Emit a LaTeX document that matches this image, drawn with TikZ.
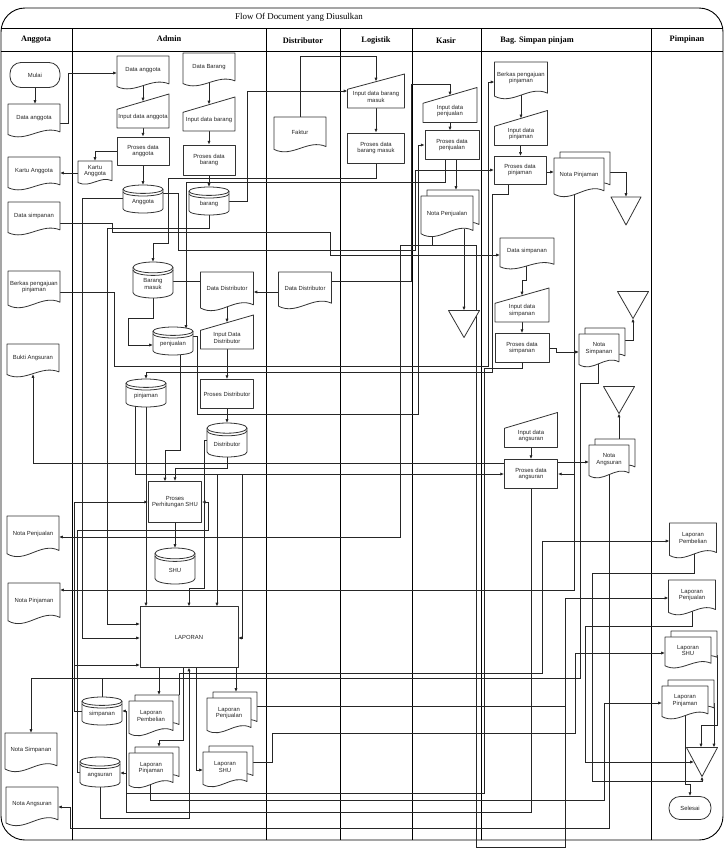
\documentclass[tikz,border=0pt]{standalone}
\usepackage{fontspec}
\setmainfont{Liberation Serif}
\newfontfamily\sansf{Liberation Sans}
\usetikzlibrary{arrows.meta}
\pgfdeclarelayer{back}
\pgfdeclarelayer{wires}
\pgfsetlayers{back,wires,main}
\tikzset{
  shp/.style={draw=black!80, line width=0.8pt, fill=white, line join=round},
  shpo/.style={draw=black!80, line width=0.8pt},
  box/.style={inner sep=0pt, outer sep=0pt},
  lbl/.style={font=\sansf\fontsize{5.9}{6.7}\selectfont, align=center, inner sep=0pt, text=black!85},
  proc/.style={shp, lbl},
  term/.style={shp, lbl, rounded corners=11pt},
  wire/.style={draw=black!85, line width=0.75pt},
  arr/.style={wire, -{Latex[length=3.8pt,width=3.2pt]}},
  lane/.style={draw=black, line width=0.9pt},
  hdr/.style={font=\bfseries\fontsize{8.3}{10}\selectfont, inner sep=0pt},
}
% document shape: name, x, y, w, h, text
\newcommand{\DocS}[6]{%
  \draw[shp,shift={(#2,#3)}] (-#4/2,-#5/2) -- (#4/2,-#5/2) -- (#4/2,0.32*#5) .. controls (0.15*#4,0.1*#5) and (-0.15*#4,0.65*#5) .. (-#4/2,0.4*#5) -- cycle;
  \node[box, minimum width=#4pt, minimum height=#5pt] (#1) at (#2,#3) {};
  \node[lbl] (#1t) at (#2,#3-0.08*#5) {#6};
}
\newcommand{\MDocS}[6]{%
  \draw[shp,shift={(#2+6,#3-6)}] (-#4/2,-#5/2) -- (#4/2,-#5/2) -- (#4/2,0.32*#5) .. controls (0.15*#4,0.1*#5) and (-0.15*#4,0.65*#5) .. (-#4/2,0.4*#5) -- cycle;
  \draw[shp,shift={(#2,#3)}] (-#4/2,-#5/2) -- (#4/2,-#5/2) -- (#4/2,0.32*#5) .. controls (0.15*#4,0.1*#5) and (-0.15*#4,0.65*#5) .. (-#4/2,0.4*#5) -- cycle;
  \node[box, minimum width=#4pt, minimum height=#5pt] (#1) at (#2,#3) {};
  \node[lbl] (#1t) at (#2,#3-0.08*#5) {#6};
}
\newcommand{\InpS}[6]{%
  \draw[shp,shift={(#2,#3)}] (-#4/2,-0.05*#5) -- (#4/2,-#5/2) -- (#4/2,#5/2) -- (-#4/2,#5/2) -- cycle;
  \node[box, minimum width=#4pt, minimum height=#5pt] (#1) at (#2,#3) {};
  \node[lbl] (#1t) at (#2,#3+0.17*#5) {#6};
}
\newcommand{\CylS}[6]{%
  \pgfmathsetmacro\cyrx{#4/2}\pgfmathsetmacro\cyry{0.15*#5}%
  \draw[shp,shift={(#2,#3)}] (-#4/2,-#5/2+\cyry) -- (-#4/2,#5/2-\cyry) arc[start angle=180,end angle=360,x radius=\cyrx pt,y radius=\cyry pt] -- (#4/2,-#5/2+\cyry) arc[start angle=0,end angle=180,x radius=\cyrx pt,y radius=\cyry pt] -- cycle;
  \draw[shpo,shift={(#2,#3)}] (-#4/2,-#5/2+\cyry) arc[start angle=180,end angle=360,x radius=\cyrx pt,y radius=\cyry pt];
  \draw[shpo,shift={(#2,#3)}] (-#4/2,-#5/2+\cyry+2.6) arc[start angle=180,end angle=360,x radius=\cyrx pt,y radius=\cyry pt];
  \node[box, minimum width=#4pt, minimum height=#5pt] (#1) at (#2,#3) {};
  \node[lbl] (#1t) at (#2,#3+0.12*#5) {#6};
}
\newcommand{\TriS}[5]{%
  \draw[shp,shift={(#2,#3)}] (-#4/2,-#5/2) -- (#4/2,-#5/2) -- (0,#5/2) -- cycle;
  \node[box, minimum width=#4pt, minimum height=#5pt] (#1) at (#2,#3) {};
}
\begin{document}
\begin{tikzpicture}[x=1pt,y=-1pt]
\useasboundingbox (0,0) rectangle (724,852);
\begin{pgfonlayer}{back}
\fill[white] (0,0) rectangle (724,852);
\draw[lane, rounded corners=24pt] (1,8) rectangle (723,840);
\draw[lane] (1,28) -- (723,28);
\draw[lane] (1,51) -- (723,51);
\foreach \lx in {72,266,340,412,481,651} { \draw[lane] (\lx,28) -- (\lx,840); }
\end{pgfonlayer}
\node[font=\fontsize{8.9}{10}\selectfont, inner sep=0pt] (title) at (299,17) {Flow Of Document yang Diusulkan};
\node[hdr] (hA) at (36,40) {Anggota};
\node[hdr] (hB) at (169,39) {Admin};
\node[hdr] (hC) at (303,41) {Distributor};
\node[hdr] (hD) at (376,41) {Logistik};
\node[hdr] (hE) at (446,41) {Kasir};
\node[hdr] (hF) at (537,41) {Bag. Simpan pinjam};
\node[hdr] (hG) at (687,40) {Pimpinan};

% ---------- Anggota ----------
\node[term, minimum width=50pt, minimum height=25pt] (mulai) at (35,75) {Mulai};
\DocS{aDang}{34}{121}{52}{34}{Data anggota}
\DocS{aKart}{34}{174}{52}{34}{Kartu Anggota}
\DocS{aDsim}{34}{219}{52}{34}{Data simpanan}
\DocS{aBerk}{34}{290}{52}{38}{Berkas pengajuan\\pinjaman}
\DocS{aBukt}{33}{361}{52}{34}{Bukti Angsuran}
\DocS{aNpen}{33}{537}{52}{42}{Nota Penjualan}
\DocS{aNpin}{34}{604}{52}{42}{Nota Pinjaman}
\DocS{aNsim}{31}{753}{52}{40}{Nota Simpanan}
\DocS{aNang}{32}{807}{52}{40}{Nota Angsuran}

% ---------- Admin ----------
\DocS{adDang}{143}{73}{52}{34}{Data anggota}
\InpS{adIang}{143}{111}{52}{34}{Input data anggota}
\node[proc, minimum width=52pt, minimum height=28pt] (adPang) at (143,151) {Proses data\\anggota};
\DocS{adKart}{95}{173}{34}{24}{Kartu\\Anggota}
\CylS{dbAng}{143}{199}{40}{28}{Anggota}
\DocS{adDbar}{209}{70}{52}{34}{Data Barang}
\InpS{adIbar}{209}{114}{52}{34}{Input data barang}
\node[proc, minimum width=52pt, minimum height=30pt] (adPbar) at (209,160) {Proses data\\barang};
\CylS{dbBar}{209}{201}{40}{28}{barang}
\CylS{dbBm}{153}{280}{40}{36}{Barang\\masuk}
\CylS{dbPen}{173}{341}{40}{28}{penjualan}
\CylS{dbPin}{146}{393}{40}{28}{pinjaman}
\DocS{adDdis}{227}{292}{53}{40}{Data Distributor}
\InpS{adIdis}{227}{332}{53}{34}{Input Data\\Distributor}
\node[proc, minimum width=53pt, minimum height=29pt] (adPdis) at (227,394) {Proses Distributor};
\CylS{dbDis}{227}{440}{40}{34}{Distributor}
\node[proc, minimum width=53pt, minimum height=41pt] (adPshu) at (175,502) {Proses\\Perhitungan SHU};
\CylS{dbShu}{175}{566}{40}{36}{SHU}
\node[proc, minimum width=98pt, minimum height=61pt] (adLap) at (189,637) {LAPORAN};
\CylS{dbSim}{102}{711}{40}{28}{simpanan}
\CylS{dbAgs}{100}{772}{40}{30}{angsuran}
\MDocS{adLpem}{151}{719}{44}{36}{Laporan\\Pembelian}
\MDocS{adLpin}{151}{771}{44}{36}{Laporan\\Pinjaman}
\MDocS{adLpen}{229}{716}{44}{36}{Laporan\\Penjualan}
\MDocS{adLshu}{225}{770}{44}{36}{Laporan\\SHU}

% ---------- Distributor ----------
\DocS{dFak}{300}{135}{52}{36}{Faktur}
\DocS{dDdis}{305}{291}{53}{38}{Data Distributor}

% ---------- Logistik ----------
\InpS{lIbm}{376}{91}{57}{34}{Input data barang\\masuk}
\node[proc, minimum width=57pt, minimum height=30pt] (lPbm) at (376,148) {Proses data\\barang masuk};

% ---------- Kasir ----------
\InpS{kIpen}{450}{105}{54}{35}{Input data\\penjualan}
\node[proc, minimum width=54pt, minimum height=29pt] (kPpen) at (452,145) {Proses data\\penjualan};
\MDocS{kNpen}{447}{217}{52}{42}{Nota Penjualan}
\TriS{kTri}{464}{324}{31}{27}

% ---------- Bag. Simpan pinjam ----------
\DocS{bBerk}{521}{81}{53}{38}{Berkas pengajuan\\pinjaman}
\InpS{bIpin}{521}{128}{53}{35}{Input data\\pinjaman}
\node[proc, minimum width=52pt, minimum height=28pt] (bPpin) at (520,170) {Proses data\\pinjaman};
\MDocS{bNpin}{579}{178}{50}{40}{Nota Pinjaman}
\TriS{bTra}{626}{211}{30}{28}
\DocS{bDsim}{527}{254}{54}{32}{Data simpanan}
\InpS{bIsim}{522}{305}{54}{34}{Input data\\simpanan}
\node[proc, minimum width=54pt, minimum height=29pt] (bPsim) at (522,348) {Proses data\\simpanan};
\MDocS{bNsim}{599}{351}{40}{34}{Nota\\Simpanan}
\TriS{bTrb}{633}{305}{31}{27}
\TriS{bTrc}{619}{400}{31}{27}
\InpS{bIang}{531}{430}{53}{35}{Input data\\angsuran}
\node[proc, minimum width=53pt, minimum height=29pt] (bPang) at (531,474) {Proses data\\angsuran};
\MDocS{bNang}{609}{462}{40}{34}{Nota\\Angsuran}

% ---------- Pimpinan ----------
\DocS{pLpem}{693}{541}{47}{36}{Laporan\\Pembelian}
\DocS{pLpen}{692}{598}{47}{36}{Laporan\\Penjualan}
\MDocS{pLshu}{688}{653}{46}{32}{Laporan\\SHU}
\MDocS{pLpin}{685}{703}{46}{34}{Laporan\\Pinjaman}
\TriS{pTri}{702}{762}{31}{29}
\node[term, minimum width=42pt, minimum height=23pt] (selesai) at (690,808) {Selesai};

% ---------- connectors ----------
\begin{pgfonlayer}{wires}
\draw[arr] (mulai.south) -- (35,104);
\draw[arr] (60,123) -- (68,123) -- (68,73) -- (adDang.west);
\draw[arr] (143,86) -- (143,101.5);
\draw[arr] (adIang.south) -- (adPang.north);
\draw[arr] (adPang.south) -- (dbAng.north);
\draw[arr] (adPang.west) -- (95,151) -- (adKart.north);
\draw[arr] (adKart.west) -- (60,173);
\draw[arr] (209,83) -- (209,104.5);
\draw[arr] (adIbar.south) -- (adPbar.north);
\draw[arr] (adPbar.south) -- (dbBar.north);
\draw[arr] (dbBar.east) -- (247,201) -- (247,91) -- (lIbm.west);
\draw[arr] (dFak.north) -- (300,56) -- (376,56) -- (376,81.5);
\draw[arr] (lIbm.south) -- (lPbm.north);
\draw[arr] (lPbm.south) -- (376,178) -- (168,178) -- (168,243) -- (153,243) -- (dbBm.north);
\draw[arr] (153,297) -- (153,318) -- (128,318) -- (128,345) -- (153,345);
\draw[arr] (445,159.5) -- (445,182) -- (186,182) -- (186,329);
\draw[arr] (278.5,292) -- (253.5,292);
\draw[arr] (227,307) -- (227,322.5);
\draw[arr] (adIdis.south) -- (adPdis.north);
\draw[arr] (adPdis.south) -- (dbDis.north);
\draw[arr] (331.5,281) -- (411,281) -- (411,84) -- (450,84) -- (450,95.5);
\draw[arr] (450,122.5) -- (450,130.5);
\draw[arr] (456,159.5) -- (456,190);
\draw[arr] (464,229) -- (kTri.north);
\draw[arr] (432,237) -- (432,245) -- (400,245) -- (400,537) -- (aNpen.east);
\draw[wire] (432,245) -- (476,245) -- (476,847) -- (565,847) -- (565,706);
\draw[arr] (60,223) -- (112,223) -- (112,232) -- (330,232) -- (330,255) -- (500,255);
\draw[arr] (526,266) -- (526,280) -- (522,280) -- (522,295.5);
\draw[arr] (bIsim.south) -- (bPsim.north);
\draw[arr] (bPsim.east) -- (556,348) -- (556,352) -- (579,352);
\draw[arr] (625,340) -- (633,340) -- (bTrb.south);
\draw[arr] (522,362.5) -- (522,368) -- (484,368) -- (484,793) -- (126,793) -- (126,711) -- (122,711);
\draw[arr] (598,364) -- (598,383) -- (580,383) -- (580,678) -- (31,678) -- (aNsim.north);
\draw[wire] (dbSim.north) -- (102,678);
\draw[arr] (60,292) -- (114,292) -- (114,366) -- (488,366) -- (488,82) -- (494.5,82);
\draw[arr] (521,95) -- (521,118.4);
\draw[arr] (520.5,145.5) -- (520.5,156);
\draw[arr] (546,172) -- (554,172);
\draw[arr] (610,172) -- (626,172) -- (bTra.north);
\draw[arr] (508,184) -- (508,194) -- (492,194) -- (492,372) -- (146,372) -- (dbPin.north);
\draw[arr] (bIang.south) -- (bPang.north);
\draw[arr] (557.5,462) -- (589,462);
\draw[arr] (619,439) -- (bTrc.south);
\draw[arr] (504.5,463) -- (33,463) -- (33,374);
\draw[arr] (574,194) -- (574,590) -- (60,590);
\draw[arr] (574,474) -- (bPang.east);
\draw[arr] (135,406) -- (135,474) -- (bPang.west);
\draw[arr] (217,474) -- (217,606.5);
\draw[arr] (242,474) -- (242,638) -- (238,638);
\draw[arr] (531,488.5) -- (531,812) -- (126,812) -- (126,773) -- (120,773);
\draw[arr] (146,407) -- (146,606.5);
\draw[arr] (609,475) -- (609,828) -- (70,828) -- (70,807) -- (58,807);
\draw[arr] (227,457) -- (227,468) -- (175,468) -- (adPshu.north);
\draw[arr] (180,355) -- (180,450) -- (165,450) -- (165,481.5);
\draw[arr] (adPshu.south) -- (dbShu.north);
\draw[arr] (82,711) -- (74,711) -- (74,502) -- (adPshu.west);
\draw[arr] (74,665) -- (140,665);
\draw[arr] (80,772) -- (77,772) -- (77,530) -- (208,530) -- (208,502) -- (adPshu.east);
\draw[arr] (123,198) -- (82,198) -- (82,638) -- (140,638);
\draw[arr] (209,215) -- (209,228) -- (107,228) -- (107,624) -- (140,624);
\draw[wire] (173,281) -- (200.5,281);
\draw[arr] (dbDis.west) -- (204,440) -- (204,588) -- (189,588) -- (189,606.5);
\draw[arr] (193,336) -- (197,336) -- (197,414) -- (418,414) -- (418,145) -- (kPpen.west);
\draw[arr] (163,193) -- (178,193) -- (178,250) -- (415,250) -- (415,170) -- (494,170);
% laporan
\draw[arr] (159,667.5) -- (159,695);
\draw[arr] (183,667.5) -- (183,740) -- (159,740) -- (159,747);
\draw[arr] (196,667.5) -- (196,770) -- (203,770);
\draw[arr] (236,667.5) -- (236,692);
\draw[arr] (179,695) -- (179,673) -- (542,673) -- (542,541) -- (pLpem.west);
\draw[arr] (257,706) -- (565,706) -- (565,598) -- (pLpen.west);
\draw[arr] (253,762) -- (272,762) -- (272,733) -- (575,733) -- (575,653) -- (pLshu.west);
\draw[arr] (150,784) -- (150,800) -- (604,800) -- (604,703) -- (pLpin.west);
\draw[arr] (100,786) -- (100,818) -- (189,818) -- (189,667.5);
% pimpinan
\draw[arr] (694,554) -- (694,573) -- (592,573) -- (592,781) -- (702,781) -- (pTri.south);
\draw[arr] (692,611) -- (692,626) -- (585,626) -- (585,762) -- (694,762);
\draw[arr] (717,655) -- (717,725) -- (701,725) -- (701,747.5);
\draw[arr] (708,703) -- (714,703) -- (714,747.5);
\draw[arr] (685,716) -- (685,784) -- (690,784) -- (selesai.north);
\end{pgfonlayer}
\end{tikzpicture}
\end{document}
